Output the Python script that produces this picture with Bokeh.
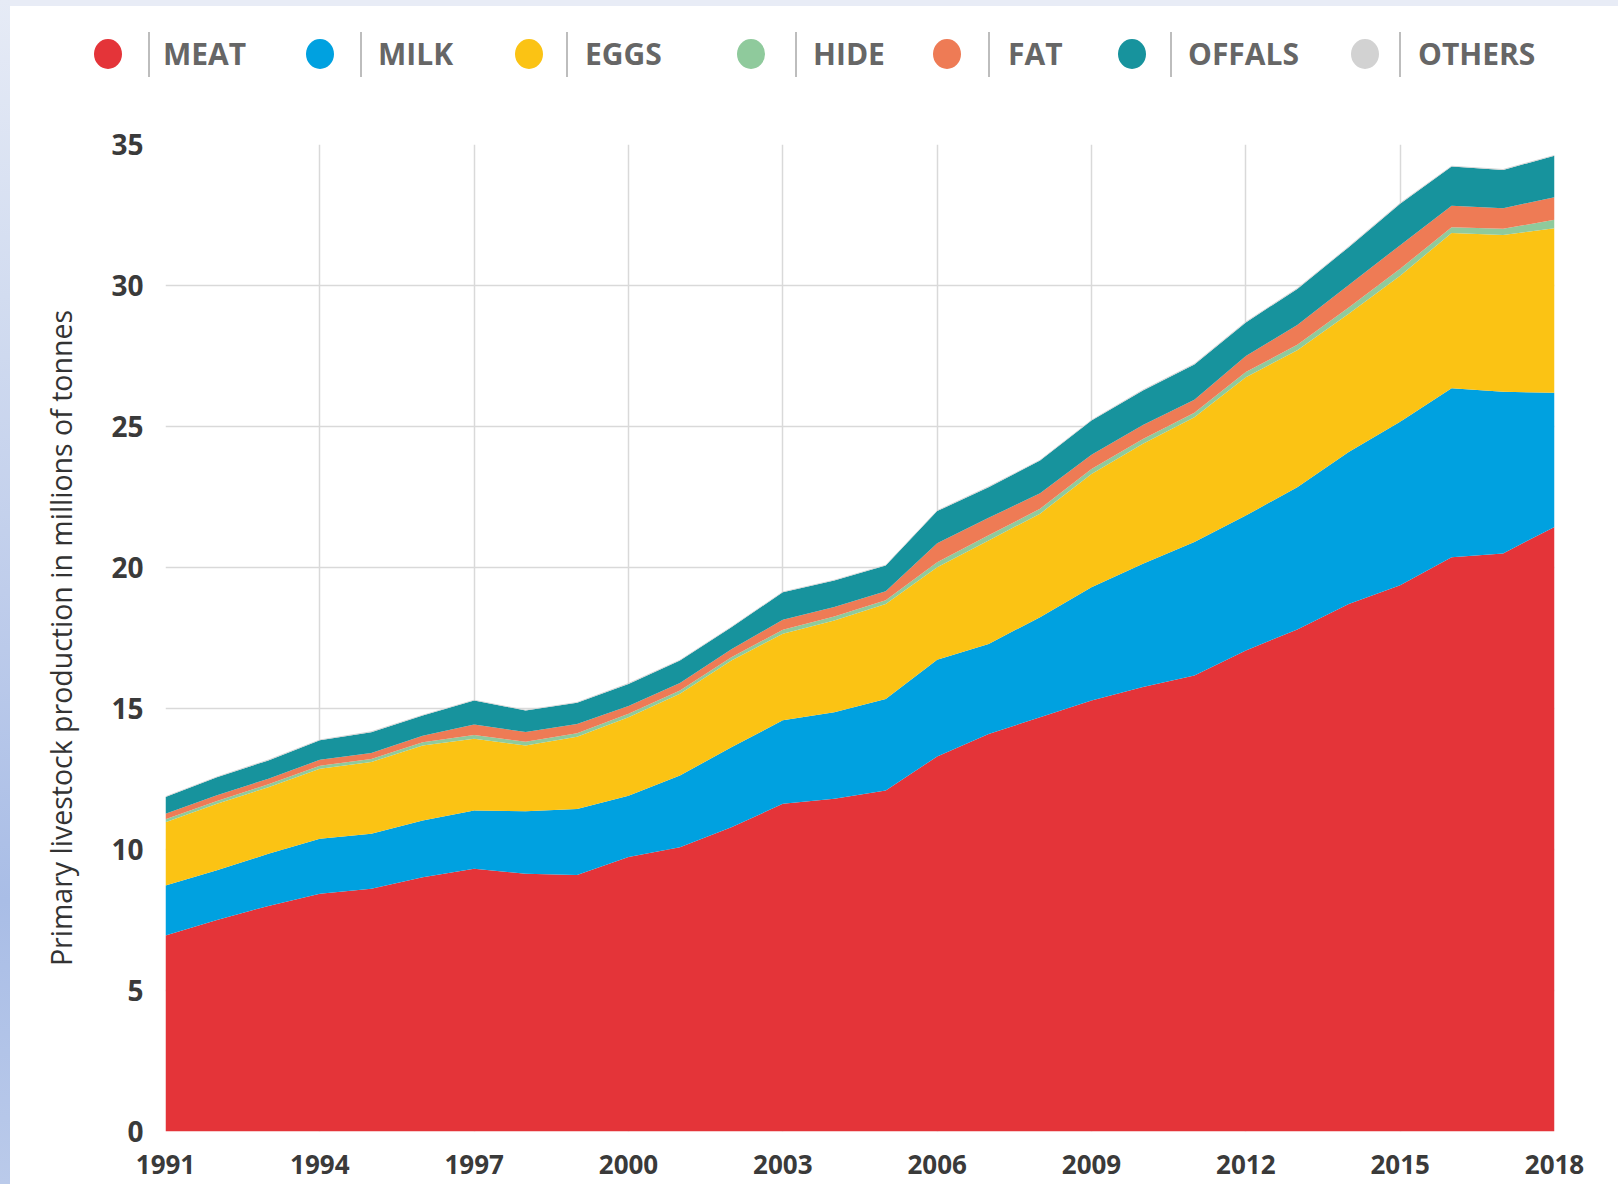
from bokeh.plotting import figure
from bokeh.models import ColumnDataSource, FixedTicker, Range1d, Div
from bokeh.layouts import column, row
from bokeh.embed import file_html
from bokeh.resources import INLINE

# ---------------- data (millions of tonnes) ----------------
years = list(range(1991, 2019))
meat = [6.95, 7.50, 8.00, 8.43, 8.61, 9.02, 9.32, 9.14, 9.10, 9.73, 10.08, 10.79, 11.62, 11.80,
        12.09, 13.30, 14.10, 14.69, 15.28, 15.76, 16.17, 17.06, 17.80, 18.71, 19.37, 20.36, 20.50, 21.44]
milk = [1.77, 1.76, 1.85, 1.95, 1.95, 2.01, 2.06, 2.22, 2.34, 2.18, 2.54, 2.84, 2.96, 3.07,
        3.25, 3.43, 3.19, 3.55, 4.02, 4.37, 4.73, 4.78, 5.05, 5.39, 5.80, 6.00, 5.73, 4.76]
eggs = [2.25, 2.36, 2.36, 2.48, 2.54, 2.66, 2.55, 2.33, 2.56, 2.78, 2.90, 3.07, 3.07, 3.25,
        3.37, 3.28, 3.67, 3.67, 4.02, 4.26, 4.43, 4.91, 4.85, 4.90, 5.18, 5.50, 5.56, 5.83]
hide = [0.10, 0.10, 0.10, 0.11, 0.11, 0.11, 0.13, 0.13, 0.12, 0.12, 0.12, 0.12, 0.14, 0.14,
        0.13, 0.18, 0.18, 0.17, 0.17, 0.17, 0.16, 0.18, 0.20, 0.22, 0.24, 0.21, 0.22, 0.30]
fat = [0.20, 0.20, 0.20, 0.21, 0.21, 0.23, 0.37, 0.35, 0.33, 0.28, 0.26, 0.28, 0.36, 0.34,
       0.32, 0.67, 0.62, 0.55, 0.51, 0.49, 0.46, 0.57, 0.70, 0.80, 0.84, 0.76, 0.73, 0.80]
offals = [0.59, 0.64, 0.65, 0.69, 0.74, 0.72, 0.85, 0.76, 0.75, 0.78, 0.80, 0.78, 0.97, 0.94,
          0.91, 1.14, 1.09, 1.16, 1.21, 1.23, 1.25, 1.19, 1.28, 1.34, 1.47, 1.39, 1.36, 1.47]
others = [0.03] * 28

series_names = ["MEAT", "MILK", "EGGS", "HIDE", "FAT", "OFFALS", "OTHERS"]
series_values = [meat, milk, eggs, hide, fat, offals, others]
colors = ["#E43439", "#00A1E0", "#FBC314", "#8FCA9C", "#EE7B55", "#17939D", "#D2D2D2"]

x_ticks = [1991, 1994, 1997, 2000, 2003, 2006, 2009, 2012, 2015, 2018]
y_ticks = [0, 5, 10, 15, 20, 25, 30, 35]
y_title = "Primary livestock production in millions of tonnes"

FONT = "Open Sans"

# ---------------- layout (page pixels) ----------------
W = 1618
STRIP = 10          # blue-ish strip at the left edge
TOP_STRIP = 6       # pale strip at the top edge
LEG_H = 118
MAIN_H = 1066
TOTAL_H = LEG_H + MAIN_H
FRAME_L, FRAME_R, FRAME_T, FRAME_B = 165, 1554, 144, 1131
GRAD = "linear-gradient(to bottom, #E6EBF6 0%, #D2DCF0 25%, #BFCDEB 50%, #A9BDE6 76%, #BACAEA 100%)"

# ---------------- legend strip (HTML) ----------------
LEG_Y = 54
circ_x = [108, 320, 529, 751, 947, 1132, 1365]
sep_x = [148, 360, 566, 795, 988, 1170, 1399]
txt_x = [163, 378, 585, 813, 1008, 1188, 1418]
parts = [
    f'<div style="position:absolute;left:0;top:0;width:{W}px;height:{TOP_STRIP}px;background:#E8ECF6;"></div>',
    f'<div style="position:absolute;left:0;top:0;width:{STRIP}px;height:{LEG_H}px;'
    f'background:{GRAD};background-size:{STRIP}px {TOTAL_H}px;background-position:0 0;"></div>',
]
for cx, s, tx, name, col in zip(circ_x, sep_x, txt_x, series_names, colors):
    parts.append(
        f'<div style="position:absolute;left:{cx - 14}px;top:{LEG_Y - 15}px;width:28px;height:30px;'
        f'border-radius:50%;background:{col};"></div>')
    parts.append(
        f'<div style="position:absolute;left:{s}px;top:{LEG_Y - 22}px;width:1.5px;height:45px;'
        f'background:#BDBDBD;"></div>')
    parts.append(
        f'<div style="position:absolute;left:{tx}px;top:{LEG_Y - 21}px;height:42px;line-height:42px;'
        f'font-family:\'{FONT}\';font-weight:bold;font-size:30px;color:#666666;white-space:nowrap;">'
        f'{name}</div>')
legend_html = (f'<div style="position:relative;width:{W}px;height:{LEG_H}px;background:white;">'
               + "".join(parts) + "</div>")
leg = Div(text=legend_html, width=W, height=LEG_H, margin=0)

strip_html = (f'<div style="width:{STRIP}px;height:{MAIN_H}px;background:{GRAD};'
              f'background-size:{STRIP}px {TOTAL_H}px;background-position:0 -{LEG_H}px;"></div>')
strip = Div(text=strip_html, width=STRIP, height=MAIN_H, margin=0)

# ---------------- main chart ----------------
PW = W - STRIP
p = figure(width=PW, height=MAIN_H, x_range=Range1d(1991, 2018), y_range=Range1d(0, 35),
           output_backend="svg", toolbar_location=None,
           min_border_left=FRAME_L - STRIP, min_border_right=W - FRAME_R,
           min_border_top=FRAME_T - LEG_H, min_border_bottom=MAIN_H - (FRAME_B - LEG_H),
           outline_line_color=None)
p.margin = 0
p.background_fill_color = "white"
p.border_fill_color = "white"

src = ColumnDataSource(dict(year=years, **{n: v for n, v in zip(series_names, series_values)}))
p.varea_stack(stackers=series_names, x="year", color=colors, source=src)

p.xaxis.ticker = FixedTicker(ticks=x_ticks)
p.yaxis.ticker = FixedTicker(ticks=y_ticks)
for ax in (p.xaxis, p.yaxis):
    ax.axis_line_color = None
    ax.major_tick_line_color = None
    ax.minor_tick_line_color = None
    ax.major_label_text_font = FONT
    ax.major_label_text_font_style = "bold"
    ax.major_label_text_color = "#3A3A3A"
p.yaxis.major_label_text_font_size = "28px"
p.xaxis.major_label_text_font_size = "26px"
p.xaxis.major_label_standoff = 17
p.yaxis.major_label_standoff = 16

p.yaxis.axis_label = y_title
p.yaxis.axis_label_text_font = FONT
p.yaxis.axis_label_text_font_style = "normal"
p.yaxis.axis_label_text_font_size = "28.5px"
p.yaxis.axis_label_text_color = "#333333"
p.yaxis.axis_label_standoff = 28

p.grid.grid_line_color = "#D9D9D9"
p.grid.grid_line_width = 1.5
p.grid.level = "underlay"

layout = column(leg, row(strip, p, spacing=0), spacing=0)
open("out.html", "w").write(file_html(layout, INLINE))
